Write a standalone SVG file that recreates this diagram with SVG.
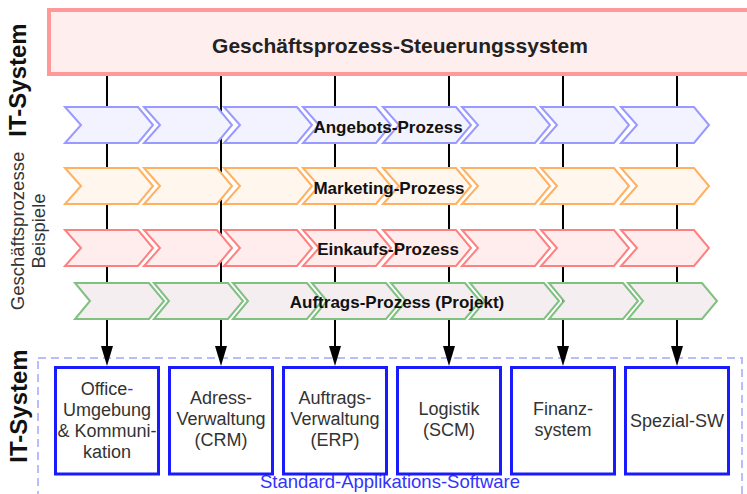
<svg xmlns="http://www.w3.org/2000/svg" width="747" height="494" viewBox="0 0 747 494">
<defs>
<style>
text{font-family:"Liberation Sans",Arial,sans-serif;stroke:none}
.title{font-size:21px;font-weight:bold;fill:#222;text-anchor:middle}
.plabel{font-size:17px;font-weight:bold;fill:#111;stroke:none;text-anchor:middle}
.side{font-size:24px;font-weight:bold;fill:#111;text-anchor:middle}
.side2{font-size:18.5px;fill:#333;text-anchor:middle}
.box{fill:#fff;stroke:#1a1aff;stroke-width:3}
.btxt{font-size:18px;fill:#333;text-anchor:middle}
.conn{stroke:#000;stroke-width:2;fill:none}
.blue{fill:#f3f3ff;stroke:#9999ff;stroke-width:2}
.orange{fill:#fff6ee;stroke:#ffb060;stroke-width:2}
.red{fill:#ffeded;stroke:#ff8080;stroke-width:2}
.green{fill:#f4eef1;stroke:#80c080;stroke-width:2}
</style>
<path id="chev" d="M0,0 H73 L88,18 L73,36 H0 L16,18 Z"/>
<path id="chevg" d="M0,0 H74 L89,18 L74,36 H0 L15,18 Z"/>
</defs>
<rect width="747" height="494" fill="#fff"/>

<g id="steuerungssystem">
<rect x="49" y="10" width="702" height="64" fill="#ffeeee" stroke="#ff9999" stroke-width="4"/>
<text class="title" x="400" y="53">Geschäftsprozess-Steuerungssystem</text>
</g>

<g id="standard-applikations-software">
<rect x="38" y="358" width="704" height="140" fill="none" stroke="#bbbbff" stroke-width="2" stroke-dasharray="8,5"/>
<text x="390" y="488" font-size="18.5" fill="#3333ff" text-anchor="middle">Standard-Applikations-Software</text>
</g>

<g id="connectors">
<line class="conn" x1="107" y1="76" x2="107" y2="348"/>
<line class="conn" x1="221" y1="76" x2="221" y2="348"/>
<line class="conn" x1="335" y1="76" x2="335" y2="348"/>
<line class="conn" x1="449" y1="76" x2="449" y2="348"/>
<line class="conn" x1="563" y1="76" x2="563" y2="348"/>
<line class="conn" x1="677" y1="76" x2="677" y2="348"/>
<path d="M101,346 L113,346 L107,366 Z" fill="#000"/>
<path d="M215,346 L227,346 L221,366 Z" fill="#000"/>
<path d="M329,346 L341,346 L335,366 Z" fill="#000"/>
<path d="M443,346 L455,346 L449,366 Z" fill="#000"/>
<path d="M557,346 L569,346 L563,366 Z" fill="#000"/>
<path d="M671,346 L683,346 L677,366 Z" fill="#000"/>
</g>

<g id="angebots-prozess">
<g class="blue">
<use href="#chev" x="65" y="107"/><use href="#chev" x="144" y="107"/><use href="#chev" x="224" y="107"/><use href="#chev" x="303" y="107"/>
<use href="#chev" x="383" y="107"/><use href="#chev" x="462" y="107"/><use href="#chev" x="541" y="107"/><use href="#chev" x="621" y="107"/>
</g>
<text class="plabel" x="388" y="133">Angebots-Prozess</text>
</g>

<g id="marketing-prozess">
<g class="orange">
<use href="#chev" x="65" y="168"/><use href="#chev" x="144" y="168"/><use href="#chev" x="224" y="168"/><use href="#chev" x="303" y="168"/>
<use href="#chev" x="383" y="168"/><use href="#chev" x="462" y="168"/><use href="#chev" x="541" y="168"/><use href="#chev" x="621" y="168"/>
</g>
<text class="plabel" x="389" y="194">Marketing-Prozess</text>
</g>

<g id="einkaufs-prozess">
<g class="red">
<use href="#chev" x="65" y="230"/><use href="#chev" x="144" y="230"/><use href="#chev" x="224" y="230"/><use href="#chev" x="303" y="230"/>
<use href="#chev" x="383" y="230"/><use href="#chev" x="462" y="230"/><use href="#chev" x="541" y="230"/><use href="#chev" x="621" y="230"/>
</g>
<text class="plabel" x="388" y="255">Einkaufs-Prozess</text>
</g>

<g id="auftrags-prozess">
<g class="green">
<use href="#chevg" x="75" y="283"/><use href="#chevg" x="154" y="283"/><use href="#chevg" x="233" y="283"/><use href="#chevg" x="312" y="283"/>
<use href="#chevg" x="391" y="283"/><use href="#chevg" x="470" y="283"/><use href="#chevg" x="549" y="283"/><use href="#chevg" x="628" y="283"/>
</g>
<text class="plabel" x="397" y="308">Auftrags-Prozess (Projekt)</text>
</g>

<g id="labels-left">
<text class="side" transform="translate(26,80) rotate(-90)">IT-System</text>
<text class="side2" transform="translate(24,231) rotate(-90)">Geschäftsprozesse</text>
<text class="side2" transform="translate(45,231) rotate(-90)">Beispiele</text>
<text class="side" transform="translate(27,406) rotate(-90)">IT-System</text>
</g>

<g id="office">
<rect class="box" x="55.5" y="367.5" width="103" height="106.5"/>
<text class="btxt" x="107" y="395">Office<tspan fill="#3333ff">-</tspan></text>
<text class="btxt" x="107" y="416">Umgebung</text>
<text class="btxt" x="107" y="437">&amp; Kommuni-</text>
<text class="btxt" x="107" y="458">kation</text>
</g>

<g id="crm">
<rect class="box" x="169.5" y="367.5" width="103" height="106.5"/>
<text class="btxt" x="221" y="404">Adress-</text>
<text class="btxt" x="221" y="425">Verwaltung</text>
<text class="btxt" x="221" y="446">(CRM)</text>
</g>

<g id="erp">
<rect class="box" x="283.5" y="367.5" width="103" height="106.5"/>
<text class="btxt" x="335" y="404">Auftrags-</text>
<text class="btxt" x="335" y="425">Verwaltung</text>
<text class="btxt" x="335" y="446">(ERP)</text>
</g>

<g id="scm">
<rect class="box" x="397.5" y="367.5" width="103" height="106.5"/>
<text class="btxt" x="449" y="415">Logistik</text>
<text class="btxt" x="449" y="436">(SCM)</text>
</g>

<g id="finanz">
<rect class="box" x="511.5" y="367.5" width="103" height="106.5"/>
<text class="btxt" x="563" y="415">Finanz-</text>
<text class="btxt" x="563" y="436">system</text>
</g>

<g id="spezial">
<rect class="box" x="625.5" y="367.5" width="103" height="106.5"/>
<text class="btxt" x="677" y="427">Spezial-SW</text>
</g>
</svg>
